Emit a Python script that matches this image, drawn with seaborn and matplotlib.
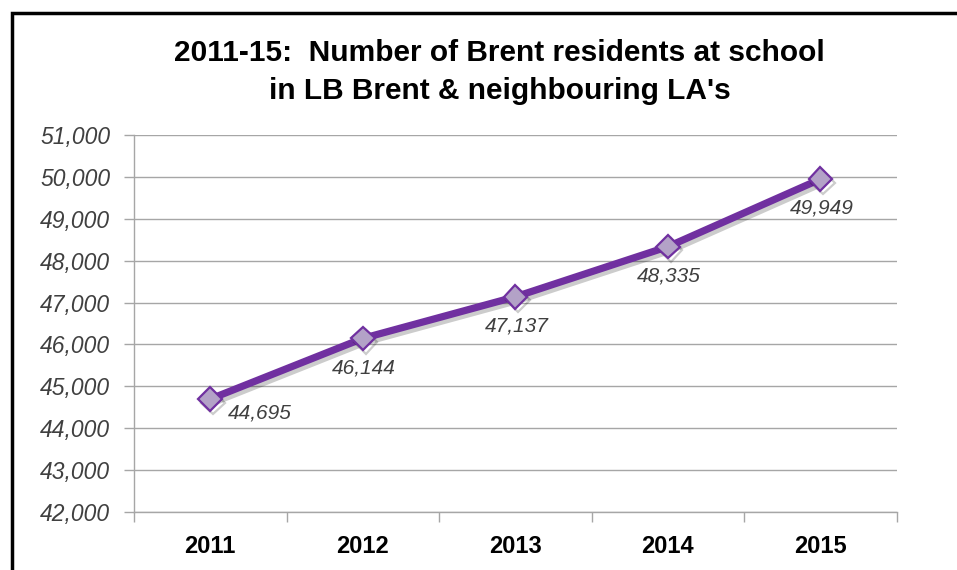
import pandas as pd
import seaborn as sns
import matplotlib.pyplot as plt
import matplotlib.patheffects as pe
from matplotlib.patches import Rectangle
from matplotlib.ticker import FuncFormatter, FixedLocator

years = ['2011', '2012', '2013', '2014', '2015']
residents = [44695, 46144, 47137, 48335, 49949]
title = "2011-15:  Number of Brent residents at school\nin LB Brent & neighbouring LA's"

df = pd.DataFrame({'year': years, 'residents': residents})

sns.set_style('white')
plt.rcParams['font.family'] = ['Liberation Sans', 'DejaVu Sans']

purple = '#7030A0'
marker_fill = '#B3A2C7'
grid_col = '#A6A6A6'
text_col = '#404040'

fig = plt.figure(figsize=(9.57, 5.70), dpi=100)
ax = fig.add_axes([0.140, 0.102, 0.797, 0.661])

sns.lineplot(data=df, x='year', y='residents', ax=ax, color=purple, linewidth=5.2,
             marker='D', markersize=12, markerfacecolor=marker_fill,
             markeredgecolor=purple, markeredgewidth=1.6, sort=False,
             path_effects=[pe.SimpleLineShadow(offset=(2, -2.5), alpha=0.2), pe.Normal()])

# data labels (below the points, first one to the right)
for i, (yr, val) in enumerate(zip(years, residents)):
    if i == 0:
        off = (13, -10)
        ha = 'left'
    else:
        off = (1, -21)
        ha = 'center'
    ax.annotate(f'{val:,}', (i, val), xytext=off, textcoords='offset points',
                ha=ha, va='center', fontsize=15, style='italic', color=text_col)

ax.set_ylim(42000, 51000)
ax.set_xlim(-0.5, len(years) - 0.5)
ax.set_yticks(range(42000, 51001, 1000))
ax.yaxis.set_major_formatter(FuncFormatter(lambda v, p: f'{int(v):,}'))
ax.yaxis.grid(True, color=grid_col, linewidth=1)
ax.set_axisbelow(True)

ax.set_xlabel('')
ax.set_ylabel('')
ax.xaxis.set_minor_locator(FixedLocator([i - 0.5 for i in range(len(years) + 1)]))
ax.tick_params(axis='x', which='major', length=0, pad=17, labelsize=17, colors='black')
ax.tick_params(axis='x', which='minor', length=7, width=1, color=grid_col, direction='out', bottom=True)
ax.tick_params(axis='y', length=7, width=1, color=grid_col, direction='out', left=True,
               labelsize=16.5, labelcolor=text_col, pad=10)
for lab in ax.get_xticklabels():
    lab.set_fontweight('bold')
for lab in ax.get_yticklabels():
    lab.set_fontstyle('italic')

for side in ['top', 'right']:
    ax.spines[side].set_visible(False)
for side in ['left', 'bottom']:
    ax.spines[side].set_color(grid_col)
    ax.spines[side].set_linewidth(1)

fig.text(0.522, 0.873, title, ha='center', va='center', fontsize=21.5,
         fontweight='bold', color='black', linespacing=1.45)

# outer chart border (left and top edges show)
fig.patches.append(Rectangle((12 / 957, -0.1), 1.0, 1.077, transform=fig.transFigure,
                             fill=False, edgecolor='black', linewidth=2.5))

fig.savefig('out.png', dpi=100)
